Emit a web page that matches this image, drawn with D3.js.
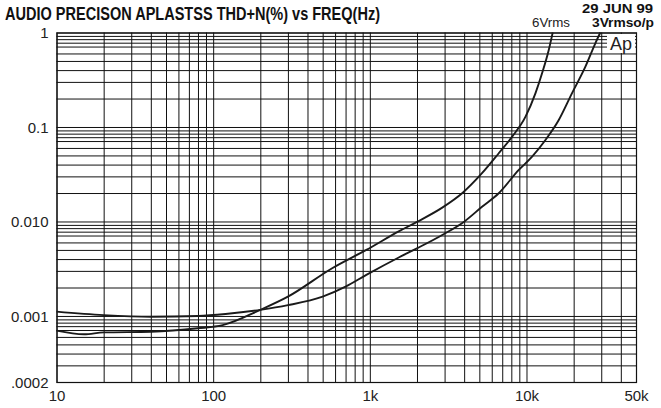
<!DOCTYPE html>
<html>
<head>
<meta charset="utf-8">
<script src="https://cdn.jsdelivr.net/npm/d3@7"></script>
<style>
html,body{margin:0;padding:0;background:#fff;}
svg{display:block;font-family:"Liberation Sans",Arial,sans-serif;}
</style>
</head>
<body>
<svg id="chart" width="661" height="408"></svg>
<script>
// ---- data ----
const title = "AUDIO PRECISON APLASTSS THD+N(%) vs FREQ(Hz)";
const dateLabel = "29 JUN 99";
const seriesNames = ["6Vrms", "3Vrmso/p"];

const xTickValues = [10, 100, 1000, 10000, 50000];
const xTickLabels = ["10", "100", "1k", "10k", "50k"];
const yTickValues = [1, 0.1, 0.01, 0.001, 0.0002];
const yTickLabels = ["1", "0.1", "0.010", "0.001", ".0002"];

const xGridMultipliers = [1, 2, 3, 4, 5, 6, 7, 8, 9];
const yGridMultipliers = [1, 2, 3, 4, 5, 6, 7.1, 7.8, 8.5, 9.2];

const freq6V = [10, 15, 20, 40, 80, 115, 200, 300, 575, 950, 1540, 2000, 2900, 3900, 5200, 6650, 8100, 9860, 11400, 12570, 13870, 14700];
const thd6V  = [0.00070, 0.00064, 0.00067, 0.00068, 0.00074, 0.00080, 0.00116, 0.00160, 0.0032, 0.0050, 0.0079, 0.0099, 0.0140, 0.0200, 0.0324, 0.0527, 0.079, 0.1285, 0.227, 0.37, 0.653, 1.0];

const freq3V = [10, 20, 40, 80, 120, 200, 300, 500, 700, 950, 1540, 2000, 2900, 4000, 5200, 6650, 8930, 10860, 13210, 16070, 19500, 23770, 27500, 29600];
const thd3V  = [0.00111, 0.00102, 0.00098, 0.00100, 0.00105, 0.00116, 0.00130, 0.00160, 0.00204, 0.00272, 0.00418, 0.0052, 0.0072, 0.00995, 0.0143, 0.0199, 0.0351, 0.0485, 0.0728, 0.1186, 0.227, 0.435, 0.769, 1.0];

// ---- layout ----
const pL = 56.5, pR = 636, pT = 32.5, pB = 382;
const svg = d3.select("#chart");

const x = d3.scaleLog().domain([10, 50000]).range([pL, pR]);
const y = d3.scaleLog().domain([0.0002, 1]).range([pB, pT]);

// grid values
const xGrid = [];
[10, 100, 1000, 10000].forEach(d => xGridMultipliers.forEach(m => { const v = d * m; if (v <= 50000) xGrid.push(v); }));
const yGrid = [];
[0.0001, 0.001, 0.01, 0.1, 1].forEach(d => yGridMultipliers.forEach(m => { const v = d * m; if (v >= 0.0002 - 1e-12 && v <= 1 + 1e-12) yGrid.push(v); }));

// vertical grid
svg.append("g")
  .attr("transform", `translate(0,${pB})`)
  .call(d3.axisBottom(x).tickValues(xGrid).tickSize(-(pB - pT)).tickFormat(""))
  .call(g => g.select(".domain").remove())
  .selectAll("line").attr("stroke", "#111").attr("stroke-width", 1);

// horizontal grid
svg.append("g")
  .attr("transform", `translate(${pL},0)`)
  .call(d3.axisLeft(y).tickValues(yGrid).tickSize(-(pR - pL)).tickFormat(""))
  .call(g => g.select(".domain").remove())
  .selectAll("line").attr("stroke", "#111").attr("stroke-width", 1);

// border
svg.append("rect")
  .attr("x", pL + 0.5).attr("y", pT + 0.5)
  .attr("width", pR - pL).attr("height", pB - pT)
  .attr("fill", "none").attr("stroke", "#111").attr("stroke-width", 1.2);

// x labels
svg.append("g")
  .attr("transform", `translate(0,${pB})`)
  .call(d3.axisBottom(x).tickValues(xTickValues).tickSize(0).tickPadding(8)
        .tickFormat((d, i) => xTickLabels[i]))
  .call(g => g.select(".domain").remove())
  .selectAll("text")
  .attr("font-family", "Liberation Sans, Arial, sans-serif")
  .attr("font-size", 15).attr("fill", "#222");

// y labels
svg.append("g")
  .attr("transform", `translate(${pL},0)`)
  .call(d3.axisLeft(y).tickValues(yTickValues).tickSize(0).tickPadding(8)
        .tickFormat((d, i) => yTickLabels[i]))
  .call(g => g.select(".domain").remove())
  .selectAll("text")
  .attr("font-family", "Liberation Sans, Arial, sans-serif")
  .attr("font-size", 15).attr("fill", "#222")
  .attr("dy", "0.36em");

// Ap logo box
svg.append("rect").attr("x", 607).attr("y", 34).attr("width", 28).attr("height", 19).attr("fill", "#fff");
svg.append("text").attr("x", 621).attr("y", 50).attr("text-anchor", "middle")
  .attr("font-size", 18).attr("fill", "#222").text("Ap");

// curves
const line = d3.line().x(d => x(d[0])).y(d => y(d[1])).curve(d3.curveMonotoneX);
const data6 = freq6V.map((f, i) => [f, thd6V[i]]);
const data3 = freq3V.map((f, i) => [f, thd3V[i]]);
[data6, data3].forEach(d => {
  svg.append("path").datum(d).attr("d", line)
    .attr("fill", "none").attr("stroke", "#1a1a1a").attr("stroke-width", 1.9)
    .attr("stroke-linejoin", "round");
});

// texts
svg.append("text").attr("x", 5).attr("y", 20)
  .attr("font-size", 18).attr("font-weight", "bold").attr("fill", "#111")
  .attr("textLength", 375).attr("lengthAdjust", "spacingAndGlyphs").text(title);
svg.append("text").attr("x", 582).attr("y", 12.5)
  .attr("font-size", 13).attr("font-weight", "bold").attr("fill", "#111")
  .attr("textLength", 71).attr("lengthAdjust", "spacingAndGlyphs").text(dateLabel);
svg.append("text").attr("x", 592).attr("y", 27.2)
  .attr("font-size", 13).attr("font-weight", "bold").attr("fill", "#111")
  .attr("textLength", 62).attr("lengthAdjust", "spacingAndGlyphs").text(seriesNames[1]);
svg.append("text").attr("x", 532).attr("y", 27)
  .attr("font-size", 13.5).attr("fill", "#222")
  .attr("textLength", 38).attr("lengthAdjust", "spacingAndGlyphs").text(seriesNames[0]);
</script>
</body>
</html>
